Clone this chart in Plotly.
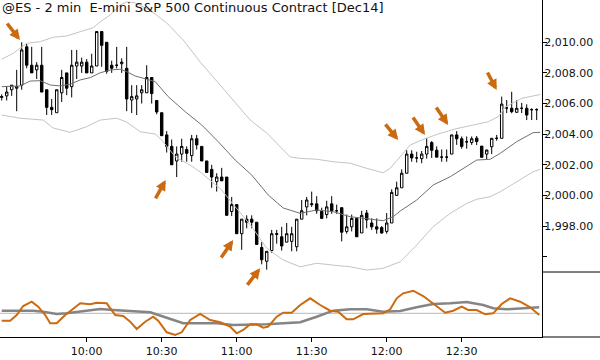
import plotly.graph_objects as go

# ---------------- data ----------------
bar_index = list(range(108))
opens = [2006.4, 2006.5, 2006.9, 2007.0, 2007.2, 2009.7, 2008.5, 2008.2, 2008.5, 2006.9,
         2005.75, 2005.4, 2006.7, 2008.0, 2007.1, 2008.45, 2008.45, 2008.7, 2008.0, 2008.45,
         2010.7, 2010.0, 2008.5, 2008.5, 2008.6, 2008.3, 2006.23, 2006.3, 2006.7, 2006.7,
         2007.7, 2006.2, 2005.4, 2003.95, 2003.2, 2002.25, 2002.7, 2003.0, 2002.6, 2003.7,
         2003.2, 2002.25, 2001.7, 2000.9, 2001.2, 2001.2, 1998.95, 1999.4, 1997.5, 1998.45,
         1998.45, 1998.25, 1996.6, 1995.7, 1996.4, 1997.45, 1997.3, 1996.95, 1997.0, 1996.65,
         1998.45, 1999.25, 1999.4, 1999.45, 1998.95, 1998.75, 1999.45, 1999.0, 1999.2, 1997.65,
         1997.95, 1998.5, 1997.55, 1998.85, 1998.2, 1997.95, 1997.9, 1997.65, 1998.2, 2000.0,
         2000.5, 2001.45, 2002.7, 2002.45, 2002.4, 2002.7, 2003.45, 2002.95, 2002.5, 2002.5,
         2002.7, 2003.95, 2003.7, 2003.5, 2003.45, 2003.74, 2003.22, 2002.7, 2003.18, 2003.73,
         2003.73, 2005.71, 2005.69, 2005.43, 2005.69, 2005.69, 2005.6, 2005.6]
highs = [2006.6, 2007.1, 2007.2, 2008.2, 2010.0, 2009.9, 2009.7, 2008.7, 2009.7, 2006.9,
         2006.3, 2006.9, 2008.2, 2008.0, 2009.5, 2009.5, 2009.0, 2008.9, 2009.25, 2010.7,
         2010.7, 2010.0, 2008.8, 2009.7, 2008.95, 2009.7, 2007.2, 2007.2, 2007.2, 2008.5,
         2007.7, 2006.2, 2005.4, 2004.2, 2003.65, 2003.2, 2003.7, 2003.2, 2003.95, 2003.95,
         2003.2, 2002.25, 2002.0, 2001.45, 2001.8, 2001.2, 1999.9, 1999.4, 1998.45, 1998.7,
         1998.7, 1998.25, 1996.95, 1996.35, 1997.75, 1997.75, 1997.95, 1998.2, 1997.95, 1998.45,
         1999.7, 1999.9, 2000.25, 1999.95, 1999.2, 1999.65, 1999.95, 1999.4, 1999.2, 1998.75,
         1998.75, 1998.5, 1999.0, 1999.05, 1998.5, 1998.5, 1998.0, 1998.85, 2000.4, 2000.9,
         2001.7, 2002.95, 2002.95, 2002.85, 2002.9, 2003.75, 2003.55, 2003.2, 2003.0, 2003.0,
         2003.95, 2004.2, 2003.85, 2003.85, 2003.85, 2003.88, 2003.22, 2003.0, 2003.73, 2003.95,
         2006.45, 2006.23, 2006.77, 2006.23, 2006.04, 2005.95, 2005.69, 2005.69]
lows = [2006.2, 2006.2, 2006.5, 2005.5, 2006.9, 2008.3, 2008.0, 2007.6, 2006.75, 2005.25,
        2005.25, 2005.4, 2006.1, 2006.55, 2006.4, 2007.6, 2008.0, 2008.0, 2008.0, 2008.45,
        2008.4, 2007.95, 2008.0, 2008.3, 2008.0, 2005.5, 2005.38, 2005.25, 2006.0, 2006.7,
        2006.0, 2005.3, 2003.9, 2002.8, 2002.0, 2001.2, 2002.2, 2002.2, 2002.2, 2003.0,
        2002.25, 2001.5, 2000.5, 2000.25, 2000.95, 1998.7, 1998.65, 1997.5, 1996.45, 1997.85,
        1997.85, 1996.8, 1995.5, 1995.15, 1996.25, 1996.85, 1996.4, 1996.95, 1996.35, 1996.35,
        1998.45, 1998.7, 1999.25, 1998.8, 1998.5, 1998.5, 1998.8, 1998.8, 1997.0, 1997.5,
        1997.65, 1997.3, 1997.55, 1997.85, 1997.75, 1997.5, 1997.5, 1997.5, 1998.2, 2000.0,
        2000.5, 2001.45, 2002.2, 2002.15, 2002.1, 2002.4, 2002.45, 2002.5, 2002.2, 2002.2,
        2002.7, 2003.3, 2003.05, 2003.05, 2003.3, 2003.29, 2002.49, 2002.36, 2002.7, 2003.57,
        2003.73, 2005.38, 2005.36, 2005.38, 2005.38, 2004.92, 2004.92, 2004.92]
closes = [2006.45, 2006.75, 2007.2, 2007.1, 2009.5, 2008.5, 2008.0, 2008.5, 2006.75, 2005.75,
          2005.6, 2006.9, 2007.7, 2007.0, 2008.5, 2008.7, 2008.7, 2008.0, 2008.45, 2010.7,
          2009.8, 2008.1, 2008.3, 2008.5, 2008.7, 2006.3, 2006.45, 2006.5, 2006.9, 2007.7,
          2006.65, 2005.45, 2003.9, 2003.2, 2002.0, 2002.7, 2003.2, 2002.75, 2003.7, 2003.3,
          2002.25, 2001.5, 2001.2, 2001.2, 2000.95, 1998.7, 1999.4, 1997.5, 1998.45, 1998.25,
          1998.25, 1996.8, 1995.8, 1996.35, 1997.5, 1997.5, 1996.7, 1997.5, 1997.5, 1998.45,
          1999.0, 1999.7, 1999.45, 1999.0, 1998.5, 1999.25, 1999.0, 1999.0, 1997.6, 1997.95,
          1998.5, 1997.3, 1998.7, 1998.4, 1997.95, 1997.8, 1997.55, 1998.2, 2000.2, 2000.5,
          2001.45, 2002.7, 2002.45, 2002.45, 2002.7, 2003.2, 2002.95, 2002.5, 2002.5, 2002.5,
          2003.95, 2003.7, 2003.2, 2003.5, 2003.7, 2003.52, 2002.49, 2002.96, 2003.73, 2003.73,
          2005.96, 2005.71, 2005.47, 2005.69, 2005.69, 2005.25, 2005.6, 2005.6]

# channel lines (sampled at bar positions)
mid_x = [0, 3.7, 5.7, 7.7, 9.7, 11.7, 13.7, 15.7, 17.7, 19.7, 21.7, 23.7, 25, 26.7, 30.7, 33.3,
         36.7, 40, 43.3, 46.7, 50, 53.3, 56.3, 59.7, 63, 66.3, 69.7, 73, 76.3, 78.3, 79.7, 83,
         86.3, 89.7, 93, 95, 97.7, 99.7, 103, 106.3, 107.7]
mid_y = [2007.10, 2007.15, 2007.47, 2007.49, 2007.21, 2007.15, 2007.26, 2007.54, 2007.69, 2008.01,
         2008.19, 2008.24, 2008.08, 2007.80, 2007.43, 2006.45, 2005.47, 2004.60, 2003.51, 2002.31,
         2001.33, 2000.03, 1999.18, 1998.83, 1999.05, 1998.94, 1998.61, 1998.50, 1998.35, 1998.61,
         1998.98, 1999.70, 2000.68, 2001.22, 2001.87, 2002.31, 2002.36, 2002.75, 2003.51, 2004.10,
         2004.12]
up_x = [0, 2.3, 5, 7.7, 10.3, 13, 15.7, 18.3, 19.7, 21.7, 23.7, 25, 26.7, 28.7, 30.7, 33, 36.3,
        39.7, 44.7, 49.7, 53, 55.7, 57.7, 59.7, 63, 66.3, 69.7, 73, 76.3, 77.7, 79.7, 81.7, 84,
        87.3, 90.7, 94, 97.3, 99.3, 100.7, 104, 107.7]
up_y = [2008.89, 2009.28, 2009.93, 2010.04, 2010.33, 2010.41, 2010.69, 2010.95, 2011.33, 2011.78,
        2012.44, 2012.63, 2012.57, 2012.24, 2011.85, 2011.26, 2010.15, 2008.71, 2006.82, 2004.92,
        2004.08, 2003.18, 2002.51, 2002.42, 2002.36, 2002.20, 2002.10, 2001.77, 2001.48, 2001.77,
        2002.51, 2003.29, 2003.62, 2004.01, 2004.34, 2004.60, 2004.81, 2005.14, 2005.77, 2006.34,
        2006.59]
lo_x = [0, 3.7, 8.3, 10.3, 13.7, 17, 19.7, 23, 25, 27.7, 30.7, 32, 34.7, 38, 39.7, 42, 44, 46.7,
        50, 53, 56.3, 59.7, 61.7, 63, 66.3, 69.7, 73, 76.3, 79.7, 83, 86.3, 89.7, 93, 95, 97.7,
        99.7, 103, 106.3, 107.7]
lo_y = [2005.25, 2005.04, 2004.92, 2004.40, 2004.12, 2004.49, 2004.92, 2005.04, 2004.79, 2004.16,
        2004.01, 2003.62, 2002.53, 2001.92, 2001.53, 2000.89, 2000.35, 1999.26, 1997.96, 1996.55,
        1995.78, 1995.34, 1995.45, 1995.57, 1995.45, 1995.34, 1995.13, 1995.24, 1995.67, 1996.76,
        1997.96, 1998.83, 1999.48, 1999.75, 1999.92, 2000.24, 2000.89, 2001.55, 2001.70]

# oscillator
osc_x = [0, 1.7, 3, 4.3, 6, 7.3, 8.7, 9.7, 11, 12.7, 14, 15.7, 17.7, 19, 21, 22.7, 24.3, 25.7,
         27, 28.7, 30.3, 31.3, 33, 34.7, 36, 37.7, 39.7, 41.7, 43.7, 45.7, 47, 48.3, 49.7, 51,
         52.3, 53.3, 55, 56.3, 58, 59.7, 61.7, 63.7, 65.7, 67.3, 69, 70.3, 72.3, 74.3, 76.3,
         77.7, 79, 80.3, 82.3, 84.3, 86.3, 88.7, 90.3, 92, 93.3, 95, 96.7, 98.3, 100, 101.7,
         103.7, 105.7, 107.5]
osc_y = [-7.4, -7.4, -1.7, 7.3, 11.6, 6.6, -1.7, -10, -10, -1.7, 3.3, 10, 9, 10.6, 10, -1.7,
         -2.7, -8.4, -15.7, -8.4, -3.4, -7.4, -19, -21.7, -19, -6.7, -0.7, -6.7, -9, -13.4, -20,
         -16.7, -11, -11, -14.4, -13.4, -3.4, 0.6, 0.6, 8.3, 15, 8.3, 2.6, 1.6, -6, -6, -0.7, 0,
         0, 4, 15, 20, 22.6, 17.3, 9.3, 0.6, 2.6, 6.6, 3.3, 3.3, -1, 0, 9.3, 15, 11.6, 6, -1.7]
sig_x = [0, 6.3, 8.3, 11, 13, 16.3, 19.7, 22.3, 26.3, 29.7, 33, 36.3, 43, 46.3, 53, 56.3, 59.7,
         63, 66.3, 69.7, 73, 76.3, 79.7, 83, 86.3, 89.7, 93, 96.3, 98.3, 101, 106.3, 107.5]
sig_y = [2.6, 2.6, 1.6, -0.7, 0, 2.3, 4.3, 3.3, 2.3, 1, -4.4, -10, -10, -11.7, -11, -10, -9,
         -3.4, 2.6, 4, 4, 1.6, 2.3, 6, 9.3, 10, 11.3, 8.3, 5, 4, 6, 6]

tick_vals_x = [17, 32, 47, 62, 77, 92]
tick_text_x = ["10:00", "10:30", "11:00", "11:30", "12:00", "12:30"]
price_ticks = [1996, 1998, 2000, 2002, 2004, 2006, 2008, 2010]
price_labels = ["", "1,998.00", "2,000.00", "2,002.00", "2,004.00", "2,006.00", "2,008.00", "2,010.00"]

# arrows: head (bar, price), tail offset in px
arrow_x = [3.66, 32.8, 46.3, 51.7, 79.3, 84.66, 89.3, 99.0]
arrow_y = [2010.15, 2001.01, 1997.09, 1995.24, 2003.62, 2003.95, 2004.6, 2006.88]
arrow_ax = [-14, -11, -13, -14, -14, -13, -13, -10]
arrow_ay = [-18, 20, 19, 18, -17, -19, -19, -19]

title_text = "@ES - 2 min\u00a0\u00a0E-mini S&P 500 Continuous Contract [Dec14]"

# ---------------- figure ----------------
ORANGE = "#CC6a10"
fig = go.Figure()
fig.add_trace(go.Scatter(x=up_x, y=up_y, mode="lines", line=dict(color="#c4c4c4", width=1),
                         xaxis="x", yaxis="y", hoverinfo="skip"))
fig.add_trace(go.Scatter(x=lo_x, y=lo_y, mode="lines", line=dict(color="#c4c4c4", width=1),
                         xaxis="x", yaxis="y", hoverinfo="skip"))
fig.add_trace(go.Scatter(x=mid_x, y=mid_y, mode="lines", line=dict(color="#707070", width=1),
                         xaxis="x", yaxis="y", hoverinfo="skip"))
fig.add_trace(go.Candlestick(
    x=bar_index, open=opens, high=highs, low=lows, close=closes,
    increasing=dict(line=dict(color="black", width=1), fillcolor="white"),
    decreasing=dict(line=dict(color="black", width=1), fillcolor="black"),
    whiskerwidth=0, xaxis="x", yaxis="y"))

fig.add_trace(go.Scatter(x=[-0.34, 107.7], y=[0, 0], mode="lines",
                         line=dict(color="#b8b8b8", width=1), xaxis="x", yaxis="y2"))
fig.add_trace(go.Scatter(x=sig_x, y=sig_y, mode="lines", line=dict(color="#858585", width=2.5),
                         xaxis="x", yaxis="y2"))
fig.add_trace(go.Scatter(x=osc_x, y=osc_y, mode="lines", line=dict(color=ORANGE, width=2),
                         xaxis="x", yaxis="y2"))

split = 65 / 337
fig.update_layout(
    width=600, height=360,
    margin=dict(l=0, r=58, t=0, b=23),
    paper_bgcolor="white", plot_bgcolor="white",
    showlegend=False,
    xaxis=dict(range=[-0.34, 108.06], anchor="y2", showline=True, linecolor="black", linewidth=1,
               ticks="outside", ticklen=4, tickcolor="black", tickvals=tick_vals_x,
               ticktext=tick_text_x, showgrid=False, zeroline=False,
               tickfont=dict(family="DejaVu Sans", size=11, color="#111"),
               rangeslider=dict(visible=False)),
    yaxis=dict(domain=[split, 1], range=[1995.0, 2012.76], side="right", anchor="x",
               showline=True, linecolor="black", linewidth=1, ticks="outside", ticklen=4,
               tickcolor="black", tickvals=price_ticks, ticktext=price_labels,
               ticklabelstandoff=-5,
               showgrid=False, zeroline=False,
               tickfont=dict(family="DejaVu Sans", size=11, color="#111")),
    yaxis2=dict(domain=[0, split], range=[-23.7, 41.3], side="right", anchor="x",
                showline=True, linecolor="black", linewidth=1, showticklabels=False,
                ticks="", showgrid=False, zeroline=False),
)

# separator in the axis column and extension of the bottom line
fig.add_shape(type="line", xref="paper", yref="paper", x0=1, x1=1.2, y0=split, y1=split,
              line=dict(color="black", width=1))
fig.add_shape(type="line", xref="paper", yref="paper", x0=1, x1=1.2, y0=0, y1=0,
              line=dict(color="black", width=1))

fig.add_annotation(text=title_text, xref="paper", yref="paper", x=0, y=1, xanchor="left",
                   yanchor="top", xshift=0, yshift=2, showarrow=False,
                   font=dict(family="DejaVu Sans", size=13, color="#111"))

for hx, hy, ax, ay in zip(arrow_x, arrow_y, arrow_ax, arrow_ay):
    fig.add_annotation(x=hx, y=hy, xref="x", yref="y", ax=ax, ay=ay, axref="pixel", ayref="pixel",
                       text="", showarrow=True, arrowhead=2, arrowsize=0.6, arrowwidth=3.5,
                       arrowcolor=ORANGE, standoff=0)

fig.write_html("out.html", config={"displayModeBar": False},
               post_script="document.body.style.margin='0';")
